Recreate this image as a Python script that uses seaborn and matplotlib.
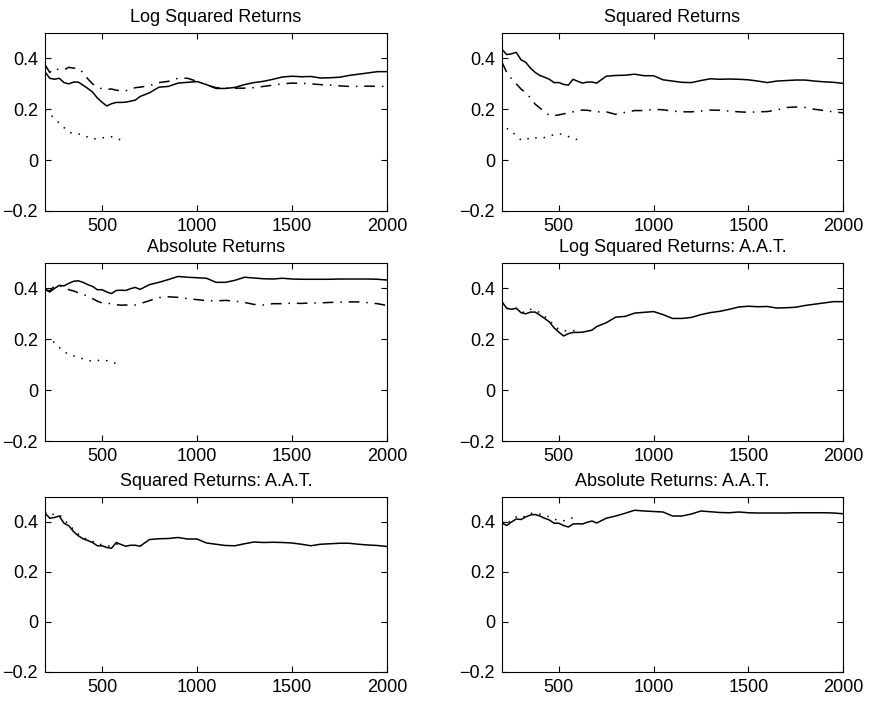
import numpy as np
import pandas as pd
import matplotlib
matplotlib.use("Agg")
import matplotlib.pyplot as plt
import seaborn as sns

# ---------------- data ----------------
x_full = [200, 225, 250, 275, 300, 325, 350, 375, 400, 425, 450, 475, 500, 525, 550,
          575, 600, 625, 650, 675, 700, 750, 800, 850, 900, 950, 1000, 1050, 1100,
          1150, 1200, 1250, 1300, 1350, 1400, 1450, 1500, 1550, 1600, 1650, 1700,
          1750, 1800, 1850, 1900, 1950, 2000]
x_short = [200, 225, 250, 275, 300, 325, 350, 375, 400, 425, 450, 475, 500, 525,
           550, 575, 600]

# Log squared returns
logsq_solid = [0.347, 0.322, 0.318, 0.322, 0.305, 0.300, 0.307, 0.307, 0.295, 0.282,
               0.268, 0.245, 0.228, 0.213, 0.222, 0.227, 0.227, 0.228, 0.232, 0.236,
               0.250, 0.265, 0.287, 0.290, 0.303, 0.306, 0.309, 0.297, 0.282, 0.282,
               0.286, 0.297, 0.305, 0.310, 0.318, 0.327, 0.330, 0.328, 0.329, 0.323,
               0.324, 0.326, 0.333, 0.338, 0.343, 0.348, 0.348]
logsq_dashdot = [0.375, 0.345, 0.360, 0.355, 0.355, 0.365, 0.362, 0.360, 0.345, 0.320,
                 0.300, 0.290, 0.280, 0.278, 0.280, 0.275, 0.273, 0.273, 0.278, 0.285,
                 0.287, 0.293, 0.305, 0.310, 0.322, 0.322, 0.310, 0.295, 0.285, 0.283,
                 0.283, 0.283, 0.285, 0.290, 0.295, 0.300, 0.303, 0.302, 0.300, 0.297,
                 0.295, 0.292, 0.290, 0.290, 0.291, 0.290, 0.290]
logsq_dotted = [0.195, 0.180, 0.165, 0.145, 0.128, 0.110, 0.105, 0.103, 0.100, 0.090,
                0.083, 0.085, 0.088, 0.089, 0.092, 0.088, 0.078]

# Squared returns
sq_solid = [0.436, 0.415, 0.418, 0.424, 0.395, 0.385, 0.362, 0.345, 0.333, 0.326,
            0.318, 0.305, 0.305, 0.298, 0.295, 0.318, 0.310, 0.303, 0.307, 0.307,
            0.303, 0.330, 0.333, 0.334, 0.338, 0.332, 0.332, 0.316, 0.311, 0.306,
            0.305, 0.313, 0.320, 0.318, 0.319, 0.318, 0.316, 0.311, 0.305, 0.311,
            0.313, 0.315, 0.315, 0.311, 0.308, 0.306, 0.302]
sq_dashdot = [0.385, 0.345, 0.320, 0.300, 0.280, 0.265, 0.245, 0.220, 0.205, 0.190,
              0.176, 0.175, 0.178, 0.182, 0.186, 0.190, 0.194, 0.197, 0.196, 0.193,
              0.190, 0.190, 0.180, 0.188, 0.195, 0.195, 0.200, 0.198, 0.193, 0.190,
              0.190, 0.193, 0.197, 0.196, 0.193, 0.190, 0.188, 0.190, 0.191, 0.197,
              0.207, 0.209, 0.207, 0.200, 0.195, 0.190, 0.186]
sq_dotted_x = [225, 250, 275, 300, 325, 350, 375, 400, 425, 450, 475, 500, 525, 550,
               575, 600]
sq_dotted = [0.125, 0.115, 0.095, 0.080, 0.078, 0.090, 0.088, 0.087, 0.089, 0.095,
             0.100, 0.104, 0.100, 0.093, 0.086, 0.080]

# Absolute returns
abs_solid = [0.396, 0.386, 0.400, 0.412, 0.410, 0.420, 0.428, 0.430, 0.424, 0.415,
             0.408, 0.395, 0.395, 0.386, 0.380, 0.392, 0.393, 0.392, 0.399, 0.404,
             0.396, 0.415, 0.424, 0.435, 0.447, 0.444, 0.442, 0.440, 0.424, 0.424,
             0.432, 0.444, 0.441, 0.438, 0.437, 0.440, 0.437, 0.436, 0.436, 0.436,
             0.436, 0.437, 0.437, 0.437, 0.437, 0.436, 0.433]
abs_dashdot = [0.396, 0.390, 0.410, 0.410, 0.405, 0.395, 0.390, 0.383, 0.377, 0.369,
               0.360, 0.350, 0.343, 0.342, 0.340, 0.336, 0.334, 0.335, 0.333, 0.335,
               0.340, 0.352, 0.364, 0.367, 0.365, 0.360, 0.356, 0.352, 0.351, 0.353,
               0.350, 0.345, 0.337, 0.335, 0.340, 0.340, 0.342, 0.341, 0.343, 0.343,
               0.345, 0.346, 0.347, 0.347, 0.344, 0.340, 0.333]
abs_dotted_x = [200, 225, 250, 275, 300, 325, 350, 375, 400, 425, 450, 475, 500, 525,
                550, 575]
abs_dotted = [0.200, 0.195, 0.188, 0.168, 0.150, 0.142, 0.135, 0.129, 0.123, 0.118,
              0.113, 0.116, 0.119, 0.116, 0.110, 0.105]

# A.A.T. dotted series
logsq_aat_dotted = [0.347, 0.322, 0.318, 0.322, 0.308, 0.305, 0.318, 0.313, 0.305,
                    0.290, 0.275, 0.255, 0.238, 0.235, 0.232, 0.233, 0.238]
sq_aat_dotted = [0.440, 0.427, 0.432, 0.430, 0.410, 0.390, 0.370, 0.352, 0.338, 0.330,
                 0.323, 0.310, 0.310, 0.305, 0.303, 0.310, 0.320]
abs_aat_x = [200, 225, 250, 275, 300, 325, 350, 375, 400, 425, 450, 475, 500, 525,
             550, 575]
abs_aat_dotted = [0.400, 0.390, 0.410, 0.420, 0.415, 0.425, 0.435, 0.433, 0.432,
                  0.428, 0.420, 0.412, 0.405, 0.405, 0.410, 0.418]

titles = ["Log Squared Returns", "Squared Returns", "Absolute Returns",
          "Log Squared Returns: A.A.T.", "Squared Returns: A.A.T.",
          "Absolute Returns: A.A.T."]
x_ticks = [500, 1000, 1500, 2000]
y_ticks = [-0.2, 0, 0.2, 0.4]
y_tick_labels = ["\u22120.2", "0", "0.2", "0.4"]

# ---------------- style ----------------
sns.set_style("ticks")
plt.rcParams["font.family"] = ["Liberation Sans", "DejaVu Sans"]
plt.rcParams["axes.unicode_minus"] = True

SOLID = "-"
DASHDOT = (0, (7, 4.5, 1, 4.5))
DOTTED = (0, (1, 4.5))

panels = [
    [(x_full, logsq_solid, SOLID), (x_full, logsq_dashdot, DASHDOT), (x_short, logsq_dotted, DOTTED)],
    [(x_full, sq_solid, SOLID), (x_full, sq_dashdot, DASHDOT), (sq_dotted_x, sq_dotted, DOTTED)],
    [(x_full, abs_solid, SOLID), (x_full, abs_dashdot, DASHDOT), (abs_dotted_x, abs_dotted, DOTTED)],
    [(x_full, logsq_solid, SOLID), (x_short, logsq_aat_dotted, DOTTED)],
    [(x_full, sq_solid, SOLID), (x_short, sq_aat_dotted, DOTTED)],
    [(x_full, abs_solid, SOLID), (abs_aat_x, abs_aat_dotted, DOTTED)],
]

W, H = 871, 701
fig = plt.figure(figsize=(W / 100, H / 100), dpi=100)
fig.patch.set_facecolor("white")

col_left = [45, 502]
col_width = [342, 341]
row_top = [33, 263, 497]
row_h = [178, 178, 175]

for i, series in enumerate(panels):
    r, c = divmod(i, 2)
    ax = fig.add_axes([col_left[c] / W, 1 - (row_top[r] + row_h[r]) / H,
                       col_width[c] / W, row_h[r] / H])
    for xs, ys, ls in series:
        df = pd.DataFrame({"x": xs, "y": ys})
        sns.lineplot(data=df, x="x", y="y", ax=ax, color="black", linewidth=1.1,
                     linestyle=ls, estimator=None, sort=False)
    ax.set_xlim(200, 2000)
    ax.set_ylim(-0.2, 0.5)
    ax.set_xticks(x_ticks)
    ax.set_xticklabels([str(t) for t in x_ticks])
    ax.set_yticks(y_ticks)
    ax.set_yticklabels(y_tick_labels)
    ax.set_xlabel("")
    ax.set_ylabel("")
    ax.tick_params(direction="in", length=4, width=0.8, top=True, right=True,
                   labelsize=13, colors="black", pad=5)
    for sp in ax.spines.values():
        sp.set_visible(True)
        sp.set_color("black")
        sp.set_linewidth(0.8)
    ax.set_title(titles[i], fontsize=13, pad=8, color="black")

fig.savefig("out.png", dpi=100, facecolor="white")
